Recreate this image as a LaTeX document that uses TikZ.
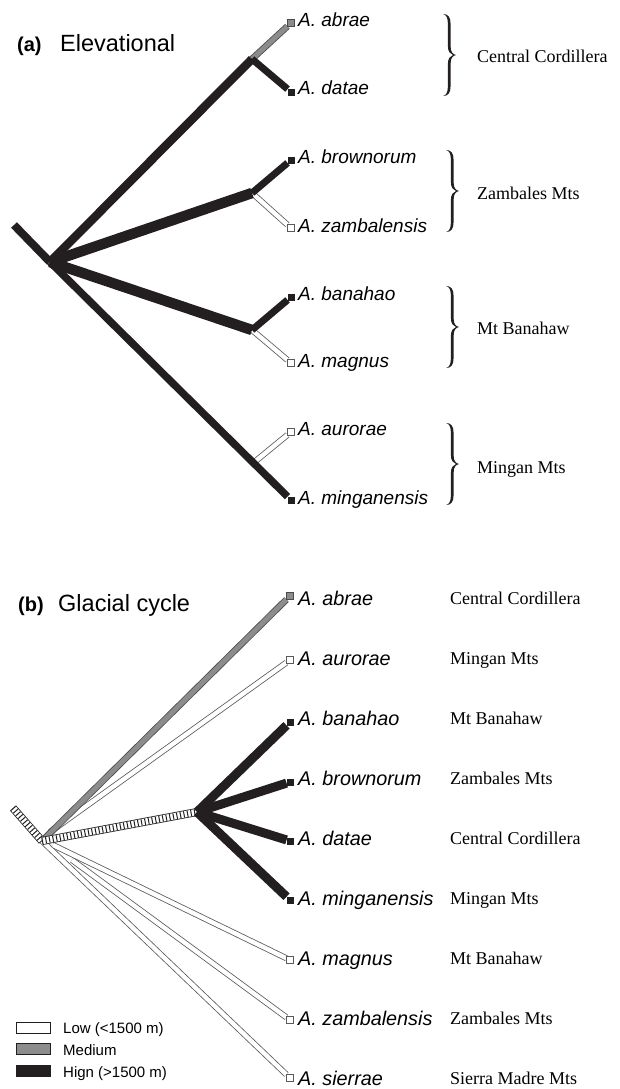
\documentclass[tikz,border=0pt]{standalone}
\usepackage{fontspec}
\setmainfont{Liberation Serif}
\newfontfamily\arial{Liberation Sans}
\definecolor{ink}{HTML}{231F20}
\definecolor{gfill}{HTML}{8C8C8C}
\definecolor{gline}{HTML}{4A4A4A}
\definecolor{wline}{HTML}{5A5A5A}
\tikzset{
  rbrace/.pic={
    \fill[ink] (0,-41) .. controls (5,-41) and (7.6,-38) .. (7.6,-31) -- (7.6,-9)
      .. controls (7.6,-3) and (9.6,-0.8) .. (13,0)
      .. controls (9.6,0.8) and (7.6,3) .. (7.6,9) -- (7.6,31)
      .. controls (7.6,38) and (5,41) .. (0,41)
      .. controls (3.4,40.4) and (4.9,37) .. (4.9,31) -- (4.9,9)
      .. controls (4.9,3.5) and (7,1) .. (10,0)
      .. controls (7,-1) and (4.9,-3.5) .. (4.9,-9) -- (4.9,-31)
      .. controls (4.9,-37) and (3.4,-40.4) .. (0,-41) -- cycle;
  }
}
\begin{document}
\begin{tikzpicture}[x=1pt,y=-1pt,
  blk/.style={draw=ink,line width=#1},
  wband/.style={draw=wline,double=white,double distance=4.4pt,line width=0.8pt},
  gband/.style={draw=gline,double=gfill,double distance=5pt,line width=0.8pt},
  hband/.style={draw=ink,double=white,double distance=6.4pt,line width=0.8pt},
  hticks/.style={draw=ink,line width=6.4pt,dash pattern=on 1pt off 2.6pt},
  tipb/.style={rectangle,draw=ink,fill=ink,minimum size=6.5pt,inner sep=0pt},
  tipw/.style={rectangle,draw=wline,fill=white,line width=0.7pt,minimum size=6.5pt,inner sep=0pt},
  tipg/.style={rectangle,draw=gline,fill=gfill,line width=0.7pt,minimum size=6.5pt,inner sep=0pt},
  sp/.style={font=\arial\itshape\fontsize{19}{19}\selectfont,anchor=base west,inner sep=0pt},
  spb/.style={font=\arial\itshape\fontsize{19.8}{20}\selectfont,anchor=base west,inner sep=0pt},
  reg/.style={font=\fontsize{18}{18}\selectfont,anchor=base west,inner sep=0pt},
  ttl/.style={anchor=base west,inner sep=0pt},
  leg/.style={font=\arial\fontsize{15}{15}\selectfont,anchor=base west,inner sep=0pt},
  legbox/.style={rectangle,minimum width=34pt,minimum height=11.5pt,inner sep=0pt,line width=0.8pt}]
\useasboundingbox (0,0) rectangle (619,1089);

% ---------------- panel (a) ----------------
\node[ttl,font=\arial\bfseries\fontsize{20}{20}\selectfont] (ta1) at (17,52) {(a)};
\node[ttl,font=\arial\fontsize{23.5}{24}\selectfont] (ta2) at (60,52) {Elevational};

\coordinate (stubA) at (14,225);
\coordinate (rootA) at (50,262);
\coordinate (ccA) at (252,59);
\coordinate (zmA) at (252,193);
\coordinate (bnA) at (252,330);
\coordinate (auA) at (252,464);

\node[tipg] (tAabr) at (291,23) {};
\node[tipb] (tAdat) at (291,92) {};
\node[tipb] (tAbro) at (291,160) {};
\node[tipw] (tAzam) at (291,228) {};
\node[tipb] (tAban) at (291,297) {};
\node[tipw] (tAmag) at (291,363) {};
\node[tipw] (tAaur) at (291,432) {};
\node[tipb] (tAmin) at (291,500) {};

\draw[gband] (ccA) -- (tAabr);
\draw[wband] (zmA) -- (tAzam);
\draw[wband] (bnA) -- (tAmag);
\draw[wband] (auA) -- (tAaur);
\draw[blk=8] (stubA) -- (rootA);
\draw[blk=7.5] (rootA) -- (tAmin);
\draw[blk=8.5] (rootA) -- (ccA);
\draw[blk=10.5] (rootA) -- (zmA);
\draw[blk=10.5] (rootA) -- (bnA);
\draw[blk=7] (ccA) -- (tAdat);
\draw[blk=7] (zmA) -- (tAbro);
\draw[blk=7] (bnA) -- (tAban);
\node[tipg] at (tAabr) {};
\node[tipb] at (tAdat) {};
\node[tipb] at (tAbro) {};
\node[tipw] at (tAzam) {};
\node[tipb] at (tAban) {};
\node[tipw] at (tAmag) {};
\node[tipw] at (tAaur) {};
\node[tipb] at (tAmin) {};

\node[sp] (lAabr) at (298,27) {A. abrae};
\node[sp] (lAdat) at (298,95) {A. datae};
\node[sp] (lAbro) at (298,163) {A. brownorum};
\node[sp] (lAzam) at (298,232) {A. zambalensis};
\node[sp] (lAban) at (298,300) {A. banahao};
\node[sp] (lAmag) at (298,367) {A. magnus};
\node[sp] (lAaur) at (298,435) {A. aurorae};
\node[sp] (lAmin) at (298,504) {A. minganensis};

\pic at (443,55) {rbrace};
\pic at (446,191) {rbrace};
\pic at (446,327) {rbrace};
\pic at (446,464) {rbrace};

\node[reg] (rA1) at (477,63) {Central Cordillera};
\node[reg] (rA2) at (477,199) {Zambales Mts};
\node[reg] (rA3) at (477,334) {Mt Banahaw};
\node[reg] (rA4) at (477,473) {Mingan Mts};

% ---------------- panel (b) ----------------
\node[ttl,font=\arial\bfseries\fontsize{20}{20}\selectfont] (tb1) at (18,611) {(b)};
\node[ttl,font=\arial\fontsize{23.5}{24}\selectfont] (tb2) at (58,611) {Glacial cycle};

\coordinate (stubB) at (13,808);
\coordinate (rootB) at (42,841);
\coordinate (hbB) at (197,812);
\coordinate (auB) at (50,832);
\coordinate (mgB) at (53,845);
\coordinate (znB) at (72,860);

\node[tipg] (tBabr) at (290,596) {};
\node[tipw] (tBaur) at (290,660) {};
\node[tipb] (tBban) at (290,722) {};
\node[tipb] (tBbro) at (290,782) {};
\node[tipb] (tBdat) at (290,841) {};
\node[tipb] (tBmin) at (290,900) {};
\node[tipw] (tBmag) at (290,960) {};
\node[tipw] (tBzam) at (290,1020) {};
\node[tipw] (tBsie) at (290,1078) {};

\draw[wband] (rootB) -- (tBsie);
\draw[wband] (znB) -- (tBzam);
\draw[wband] (mgB) -- (tBmag);
\draw[wband] (auB) -- (tBaur);
\draw[gband] (rootB) -- (tBabr);
\draw[hband] (stubB) -- (rootB);
\draw[hticks] (stubB) -- (rootB);
\draw[hband] (rootB) -- (hbB);
\draw[hticks] (rootB) -- (hbB);
\draw[blk=9] (hbB) -- (tBban);
\draw[blk=9] (hbB) -- (tBbro);
\draw[blk=9] (hbB) -- (tBdat);
\draw[blk=9] (hbB) -- (tBmin);
\node[tipg] at (tBabr) {};
\node[tipw] at (tBaur) {};
\node[tipb] at (tBban) {};
\node[tipb] at (tBbro) {};
\node[tipb] at (tBdat) {};
\node[tipb] at (tBmin) {};
\node[tipw] at (tBmag) {};
\node[tipw] at (tBzam) {};
\node[tipw] at (tBsie) {};

\node[spb] (lBabr) at (298,605) {A. abrae};
\node[spb] (lBaur) at (298,665) {A. aurorae};
\node[spb] (lBban) at (298,725) {A. banahao};
\node[spb] (lBbro) at (298,785) {A. brownorum};
\node[spb] (lBdat) at (298,845) {A. datae};
\node[spb] (lBmin) at (298,905) {A. minganensis};
\node[spb] (lBmag) at (298,965) {A. magnus};
\node[spb] (lBzam) at (298,1025) {A. zambalensis};
\node[spb] (lBsie) at (298,1085) {A. sierrae};

\node[reg] (rB1) at (450,604) {Central Cordillera};
\node[reg] (rB2) at (450,664) {Mingan Mts};
\node[reg] (rB3) at (450,724) {Mt Banahaw};
\node[reg] (rB4) at (450,784) {Zambales Mts};
\node[reg] (rB5) at (450,844) {Central Cordillera};
\node[reg] (rB6) at (450,904) {Mingan Mts};
\node[reg] (rB7) at (450,964) {Mt Banahaw};
\node[reg] (rB8) at (450,1024) {Zambales Mts};
\node[reg] (rB9) at (450,1084) {Sierra Madre Mts};

% legend
\node[legbox,draw=ink,fill=white] (gL) at (33,1028) {};
\node[legbox,draw=ink,fill=gfill] (gM) at (33,1049) {};
\node[legbox,draw=ink,fill=ink] (gH) at (33,1071) {};
\node[leg] (tL) at (63,1033.5) {Low (<1500 m)};
\node[leg] (tM) at (63,1055) {Medium};
\node[leg] (tH) at (63,1077) {Hign (>1500 m)};
\end{tikzpicture}
\end{document}
